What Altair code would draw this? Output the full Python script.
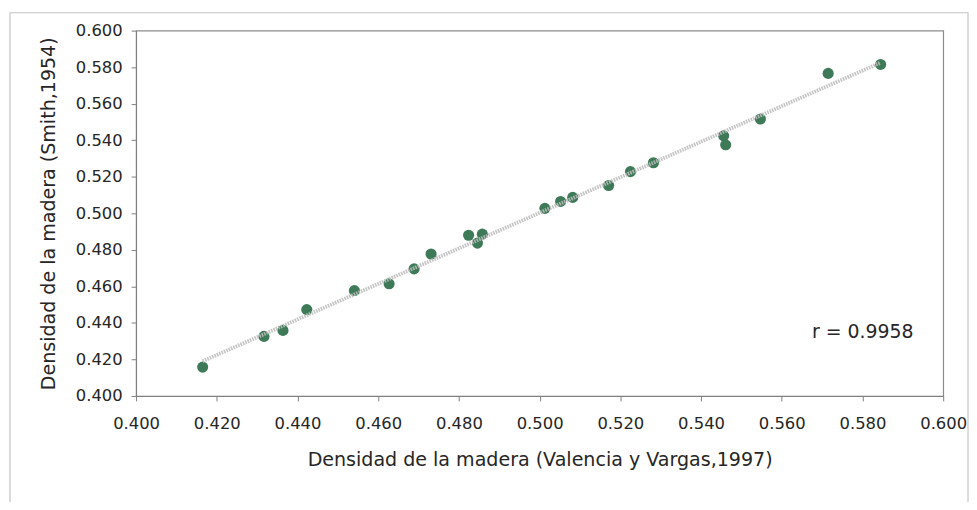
import altair as alt
import pandas as pd

# Data
valencia_vargas = [0.4165, 0.4317, 0.4364, 0.4423, 0.4541, 0.4627, 0.4689, 0.4731,
                   0.4824, 0.4846, 0.4858, 0.5013, 0.5052, 0.5082, 0.5171, 0.5225,
                   0.5282, 0.5456, 0.5461, 0.5547, 0.5715, 0.5845]
smith = [0.4158, 0.4326, 0.4359, 0.4473, 0.4577, 0.4614, 0.4696, 0.4777,
         0.4880, 0.4837, 0.4886, 0.5027, 0.5065, 0.5087, 0.5152, 0.5228,
         0.5277, 0.5424, 0.5375, 0.5516, 0.5766, 0.5815]
tick_values = [0.40, 0.42, 0.44, 0.46, 0.48, 0.50, 0.52, 0.54, 0.56, 0.58, 0.60]
annotation_text = ["r = 0.9958"]
annotation_x = [0.5675]
annotation_y = [0.4315]

df = pd.DataFrame({"x": valencia_vargas, "y": smith})
ann = pd.DataFrame({"x": annotation_x, "y": annotation_y, "t": annotation_text})
frame_df = pd.DataFrame({"a": [1]})

FONT = "DejaVu Sans"
TEXT = "#262626"

xscale = alt.Scale(domain=[0.4, 0.6], nice=False, zero=False)
yscale = alt.Scale(domain=[0.4, 0.6], nice=False, zero=False)

xaxis = alt.Axis(values=tick_values, format=".3f", grid=False,
                 title="Densidad de la madera (Valencia y Vargas,1997)",
                 tickSize=5, labelPadding=15, titlePadding=19, labelOverlap=False,
                 labelFontSize=16.5, titleFontSize=19.2, labelFont=FONT, titleFont=FONT,
                 labelColor=TEXT, titleColor=TEXT, titleFontWeight="normal",
                 domainColor="#808080", tickColor="#808080", labelFlush=False)
yaxis = alt.Axis(values=tick_values, format=".3f", grid=False,
                 title="Densidad de la madera (Smith,1954)",
                 tickSize=5, labelPadding=9, titlePadding=17, labelOverlap=False,
                 labelFontSize=16.5, titleFontSize=19.2, labelFont=FONT, titleFont=FONT,
                 labelColor=TEXT, titleColor=TEXT, titleFontWeight="normal",
                 domainColor="#808080", tickColor="#808080", labelFlush=False)

frame = alt.Chart(frame_df).mark_rect(fill=None, stroke="#c4c4c4", strokeWidth=1.2, clip=False).encode(
    x=alt.value(-127), x2=alt.value(838), y=alt.value(-18), y2=alt.value(600)
)

points = alt.Chart(df).mark_circle(size=125, opacity=1, color="#3e7a57").encode(
    x=alt.X("x:Q", scale=xscale, axis=xaxis),
    y=alt.Y("y:Q", scale=yscale, axis=yaxis),
)

trend = alt.Chart(df).mark_line(color="#bcbcbc", strokeWidth=3.8, strokeDash=[1.6, 1], opacity=0.9).encode(
    x=alt.X("x:Q", scale=xscale, axis=xaxis),
    y=alt.Y("y:Q", scale=yscale, axis=yaxis),
).transform_regression("x", "y")

label = alt.Chart(ann).mark_text(align="left", baseline="alphabetic", fontSize=19,
                                 font=FONT, color=TEXT).encode(
    x=alt.X("x:Q", scale=xscale, axis=xaxis),
    y=alt.Y("y:Q", scale=yscale, axis=yaxis),
    text="t:N",
)

chart = alt.layer(frame, points, trend, label).properties(
    width=813, height=368,
    autosize=alt.AutoSizeParams(type="none"),
    padding={"left": 129, "top": 21, "right": 26, "bottom": 105},
    background="white",
).configure_view(stroke="#8c8c8c", strokeWidth=1.2).configure_axis(labelOverlap=False)

chart.save("out.html", embed_options={"renderer": "svg", "actions": False})
